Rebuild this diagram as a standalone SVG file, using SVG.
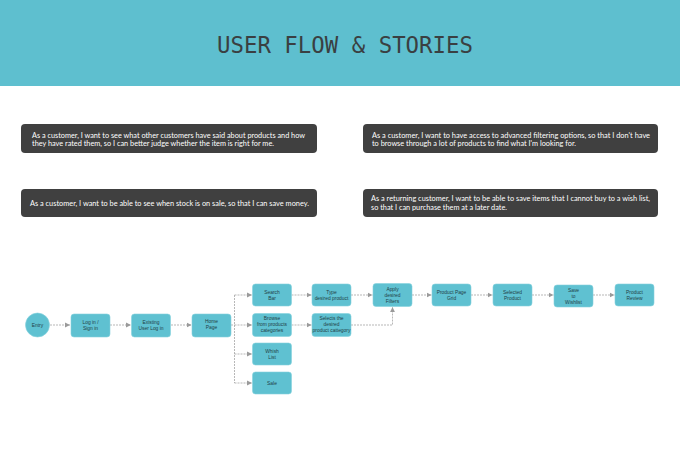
<svg xmlns="http://www.w3.org/2000/svg" width="680" height="449" viewBox="0 0 680 449">
<defs>
<marker id="arr" markerUnits="userSpaceOnUse" markerWidth="6" markerHeight="6" refX="5" refY="3" orient="auto">
<path d="M0,0.6 L5,3 L0,5.4 Z" fill="#9a9a9a"/>
</marker>
</defs>
<style>
.story{fill:#404040}
.st{font-family:Lato,"Liberation Sans",sans-serif;font-size:7.3px;fill:#ffffff}
.node{fill:#5fc1d1;stroke:#86d2de;stroke-width:0.6}
.nt{font-family:"Liberation Sans",Arial,sans-serif;font-size:4.9px;fill:#1f3f47;text-anchor:middle}
.c{fill:none;stroke:#9a9a9a;stroke-width:0.7;stroke-dasharray:2 1}
.ca{fill:none;stroke:#9a9a9a;stroke-width:0.7;stroke-dasharray:2 1;marker-end:url(#arr)}
</style>
<rect width="680" height="449" fill="#ffffff"/>
<rect width="680" height="86" fill="#5ebfcf"/>
<text x="345" y="53" text-anchor="middle" font-family="'DejaVu Sans Mono','Liberation Mono',monospace" font-size="23" fill="#3a3f42" textLength="256" lengthAdjust="spacingAndGlyphs">USER FLOW &amp; STORIES</text>

<g id="story1">
<rect class="story" x="21" y="124" width="296" height="29" rx="4"/>
<text class="st" x="32" y="137.5" textLength="273" lengthAdjust="spacingAndGlyphs">As a customer, I want to see what other customers have said about products and how</text>
<text class="st" x="32" y="146" textLength="242" lengthAdjust="spacingAndGlyphs">they have rated them, so I can better judge whether the item is right for me.</text>
</g>
<g id="story2">
<rect class="story" x="363" y="124" width="295" height="29" rx="4"/>
<text class="st" x="372" y="137.5" textLength="278" lengthAdjust="spacingAndGlyphs">As a customer, I want to have access to advanced filtering options, so that I don't have</text>
<text class="st" x="372" y="146" textLength="204" lengthAdjust="spacingAndGlyphs">to browse through a lot of products to find what I'm looking for.</text>
</g>
<g id="story3">
<rect class="story" x="21" y="189" width="296" height="28" rx="4"/>
<text class="st" x="30" y="205.5" textLength="279" lengthAdjust="spacingAndGlyphs">As a customer, I want to be able to see when stock is on sale, so that I can save money.</text>
</g>
<g id="story4">
<rect class="story" x="363" y="189" width="295" height="28" rx="4"/>
<text class="st" x="371" y="201" textLength="279" lengthAdjust="spacingAndGlyphs">As a returning customer, I want to be able to save items that I cannot buy to a wish list,</text>
<text class="st" x="371" y="209.5" textLength="136" lengthAdjust="spacingAndGlyphs">so that I can purchase them at a later date.</text>
</g>

<g id="connectors">
<path class="ca" d="M50,325 H70"/>
<path class="ca" d="M110,325 H131"/>
<path class="ca" d="M171,325 H191.5"/>
<path class="c" d="M231,325 H234.5 M234.5,295 V383"/>
<path class="ca" d="M234.5,295 H252"/>
<path class="ca" d="M234.5,325 H252"/>
<path class="ca" d="M234.5,354 H252"/>
<path class="ca" d="M234.5,383 H252"/>
<path class="ca" d="M291.5,295 H311.5"/>
<path class="ca" d="M351,295 H372.5"/>
<path class="ca" d="M291.5,325 H311.5"/>
<path class="ca" d="M351,325 H392.5 V307"/>
<path class="ca" d="M412,295 H431.5"/>
<path class="ca" d="M471,295 H492.5"/>
<path class="ca" d="M532,295 H553.5"/>
<path class="ca" d="M593,295 H614.5"/>
</g>

<g id="entry">
<circle class="node" cx="37.5" cy="325" r="12"/>
<text class="nt" x="37.5" y="326.8">Entry</text>
</g>
<g id="login">
<rect class="node" x="71" y="314" width="39" height="23" rx="3"/>
<text class="nt" x="90.5" y="323.5">Log in /</text>
<text class="nt" x="90.5" y="329.5">Sign in</text>
</g>
<g id="existing">
<rect class="node" x="131.5" y="314" width="39" height="23" rx="3"/>
<text class="nt" x="151" y="323.5">Existing</text>
<text class="nt" x="151" y="329.5">User Log in</text>
</g>
<g id="home">
<rect class="node" x="192" y="314" width="39" height="23" rx="3"/>
<text class="nt" x="211.5" y="323.3">Home</text>
<text class="nt" x="211.5" y="329.3">Page</text>
</g>
<g id="search">
<rect class="node" x="252.5" y="284" width="39" height="22" rx="3"/>
<text class="nt" x="272" y="294">Search</text>
<text class="nt" x="272" y="300">Bar</text>
</g>
<g id="type">
<rect class="node" x="312" y="284" width="39" height="22" rx="3"/>
<text class="nt" x="331.5" y="294">Type</text>
<text class="nt" x="331.5" y="300">desired product</text>
</g>
<g id="apply">
<rect class="node" x="373" y="283.5" width="39" height="23" rx="3"/>
<text class="nt" x="392.5" y="290.8">Apply</text>
<text class="nt" x="392.5" y="296.8">desired</text>
<text class="nt" x="392.5" y="302.8">Filters</text>
</g>
<g id="browse">
<rect class="node" x="252.5" y="313.5" width="39" height="23" rx="3"/>
<text class="nt" x="272" y="320.1">Browse</text>
<text class="nt" x="272" y="326.1">from products</text>
<text class="nt" x="272" y="332.1">categories</text>
</g>
<g id="selects">
<rect class="node" x="312" y="313.5" width="39" height="23" rx="3"/>
<text class="nt" x="331.5" y="320.1">Selects the</text>
<text class="nt" x="331.5" y="326.1">desired</text>
<text class="nt" x="331.5" y="332.1">product cattegory</text>
</g>
<g id="wishlist">
<rect class="node" x="252.5" y="343" width="39" height="22" rx="3"/>
<text class="nt" x="272" y="353">Whish</text>
<text class="nt" x="272" y="359">List</text>
</g>
<g id="sale">
<rect class="node" x="252.5" y="372" width="39" height="22" rx="3"/>
<text class="nt" x="272" y="384.7">Sale</text>
</g>
<g id="ppg">
<rect class="node" x="432" y="284" width="39" height="22" rx="3"/>
<text class="nt" x="451.5" y="294">Product Page</text>
<text class="nt" x="451.5" y="300">Grid</text>
</g>
<g id="selected">
<rect class="node" x="493" y="284" width="39" height="22" rx="3"/>
<text class="nt" x="512.5" y="294">Selected</text>
<text class="nt" x="512.5" y="300">Product</text>
</g>
<g id="save">
<rect class="node" x="554" y="285" width="39" height="22" rx="3"/>
<text class="nt" x="573.5" y="291.6">Save</text>
<text class="nt" x="573.5" y="297.6">to</text>
<text class="nt" x="573.5" y="303.6">Wishlist</text>
</g>
<g id="review">
<rect class="node" x="615" y="284" width="39" height="22" rx="3"/>
<text class="nt" x="634.5" y="294">Product</text>
<text class="nt" x="634.5" y="300">Review</text>
</g>
</svg>
